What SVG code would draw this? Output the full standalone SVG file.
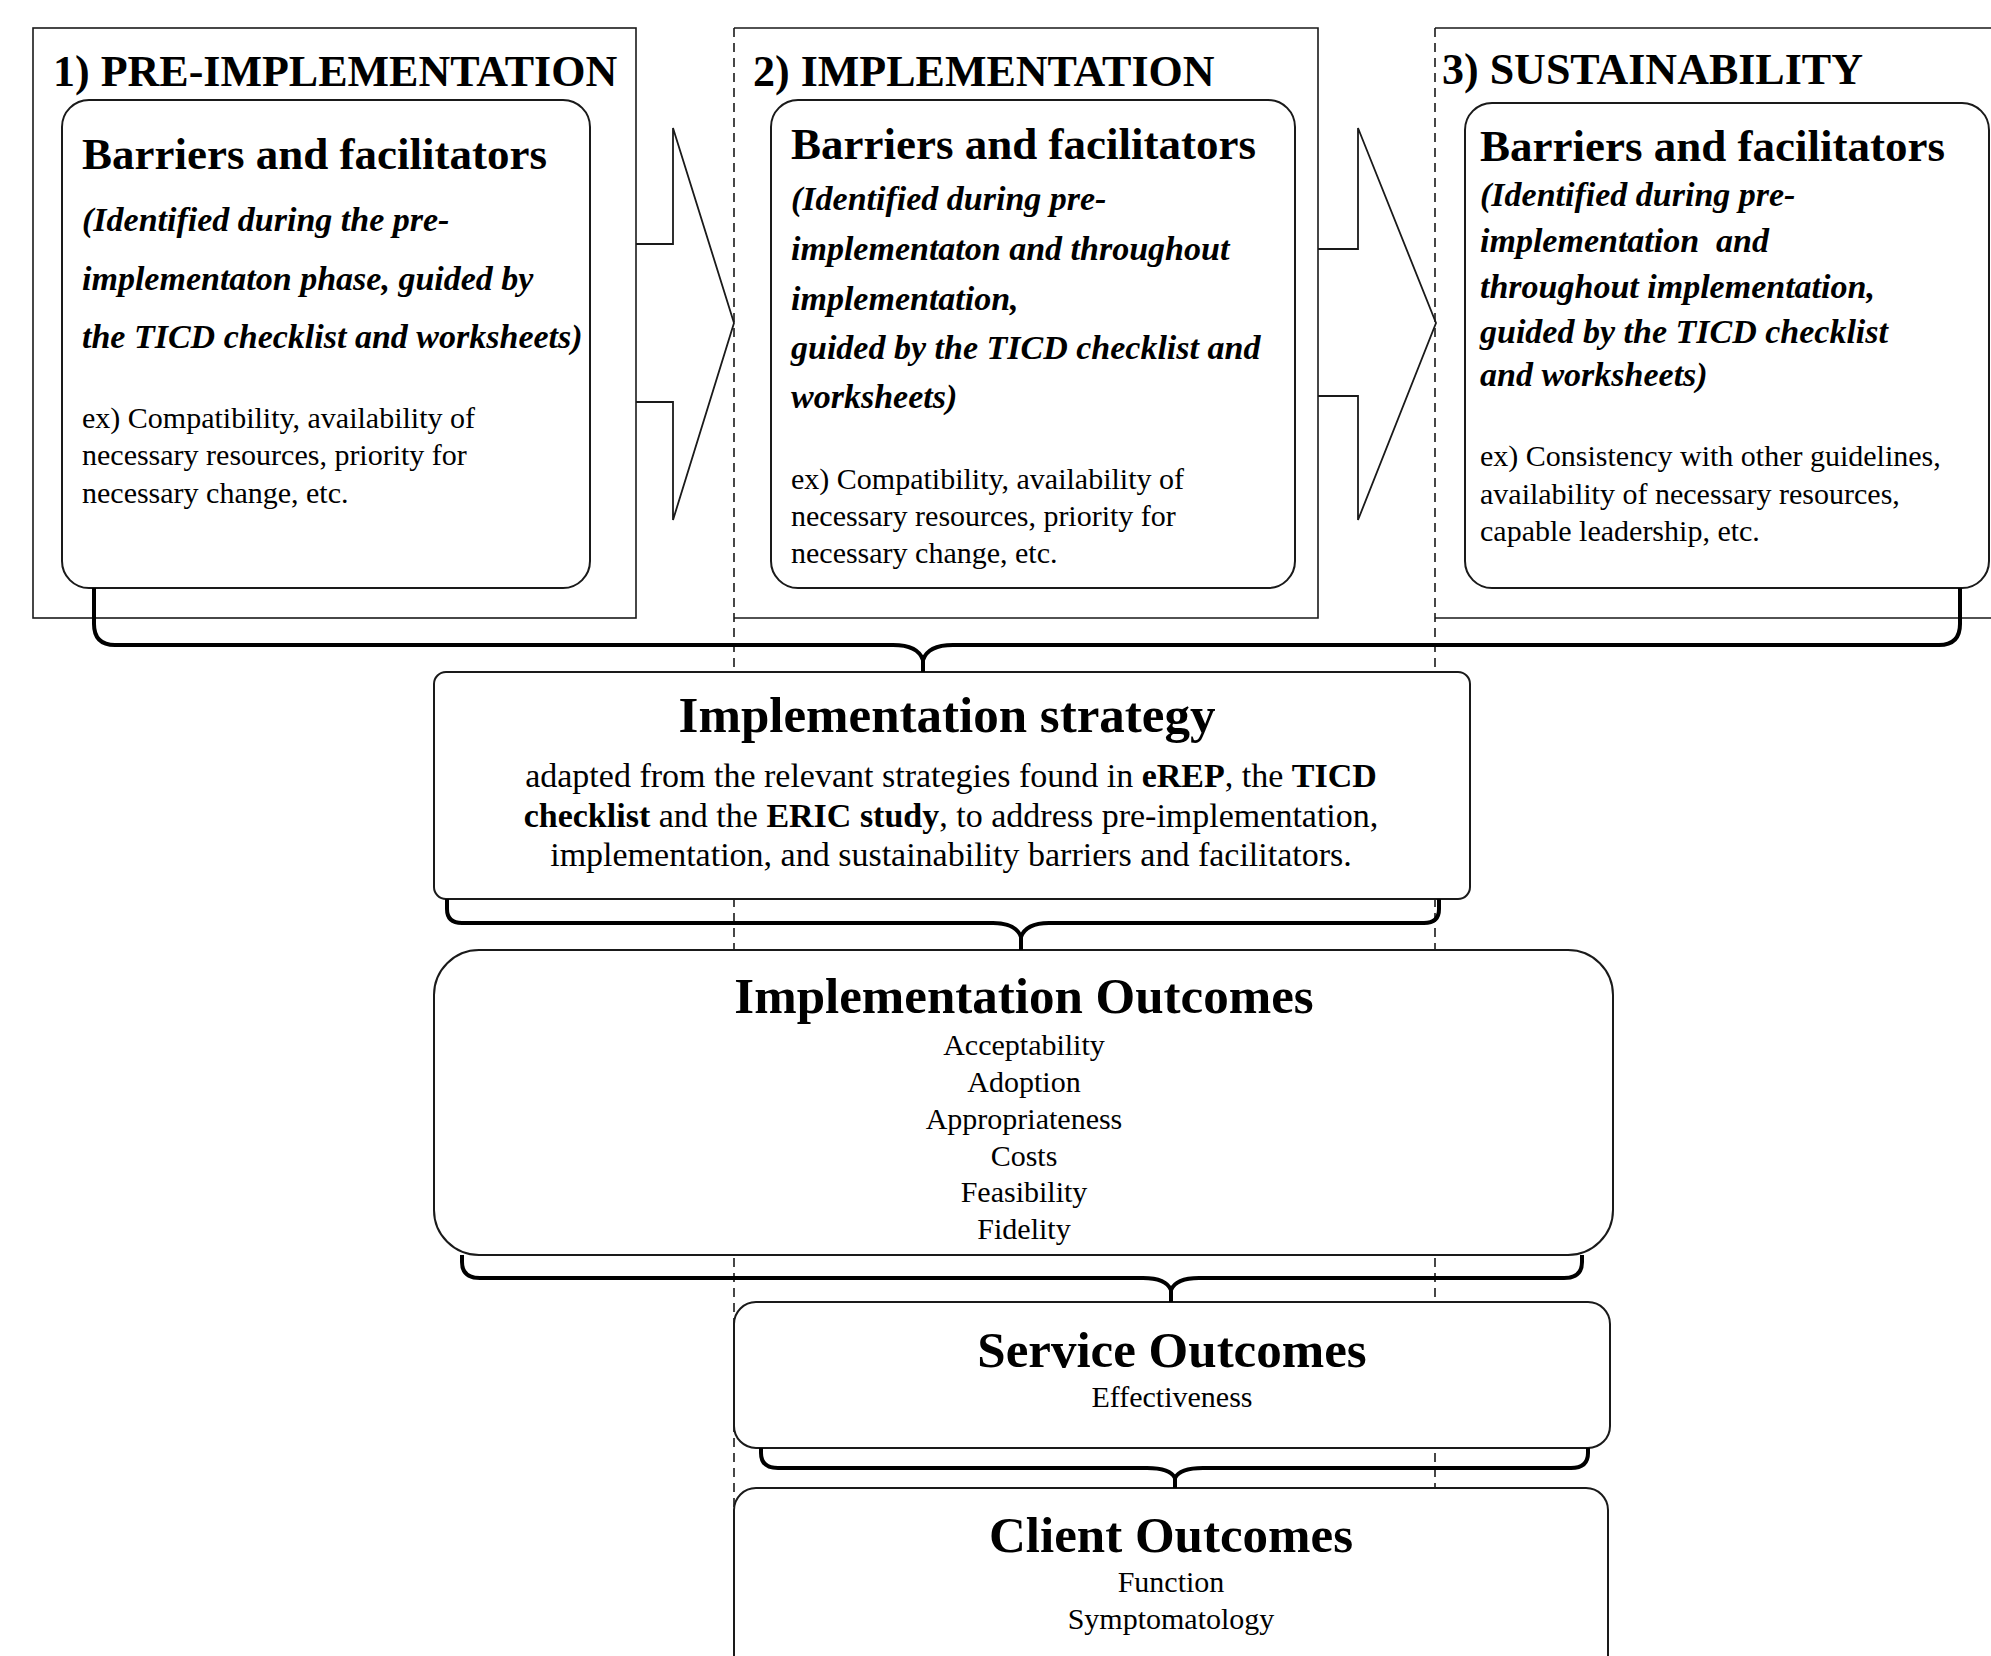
<svg xmlns="http://www.w3.org/2000/svg" width="1991" height="1656" viewBox="0 0 1991 1656">
<style>
text{font-family:"Liberation Serif","Times New Roman",serif;fill:#000}
.outer{fill:#fff;stroke:#1a1a1a;stroke-width:1.6}
.edge{fill:none;stroke:#1a1a1a;stroke-width:1.6}
.card{fill:#fff;stroke:#1a1a1a;stroke-width:2}
.arrow{fill:none;stroke:#1a1a1a;stroke-width:1.8;stroke-linejoin:miter}
.dash{stroke:#1a1a1a;stroke-width:1.6;stroke-dasharray:9 6;fill:none}
.brace{fill:none;stroke:#000;stroke-width:4;stroke-linecap:butt;stroke-linejoin:round}
.phase{font-weight:bold;font-size:44px}
.bf{font-weight:bold;font-size:45px}
.it{font-weight:bold;font-style:italic;font-size:34px}
.ex{font-size:30px}
.title{font-weight:bold;font-size:51px;text-anchor:middle}
.body{font-size:34px;text-anchor:middle}
.item{font-size:30px;text-anchor:middle}
</style>
<rect width="1991" height="1656" fill="#fff"/>

<g id="phase-boxes">
  <rect class="outer" x="33" y="28" width="603" height="590"/>
  <rect x="734" y="28" width="584" height="590" fill="#fff"/>
  <path class="edge" d="M734,28 H1318 V618 H734"/>
  <rect x="1435" y="28" width="570" height="590" fill="#fff"/>
  <path class="edge" d="M1435,28 H1995 M1995,618 H1435"/>
</g>

<g id="dashed-lines">
  <line class="dash" x1="734" y1="28" x2="734" y2="1656"/>
  <line class="dash" x1="1435" y1="28" x2="1435" y2="1488"/>
</g>

<g id="connectors">
  <path class="arrow" d="M636,244 H673 V128 L734,323 L673,520 V402 H636"/>
  <path class="arrow" d="M1318,249 H1358 V128 L1436,323 L1358,520 V396 H1318"/>
</g>

<g id="phase1">
  <text class="phase" x="53" y="86">1) PRE-IMPLEMENTATION</text>
  <rect class="card" x="62" y="100" width="528" height="488" rx="27" ry="27"/>
  <text class="bf" x="82" y="169">Barriers and facilitators</text>
  <text class="it" x="82" y="231">(Identified during the pre-</text>
  <text class="it" x="82" y="290">implementaton phase, guided by</text>
  <text class="it" x="82" y="348">the TICD checklist and worksheets)</text>
  <text class="ex" x="82" y="428">ex) Compatibility, availability of</text>
  <text class="ex" x="82" y="465">necessary resources, priority for</text>
  <text class="ex" x="82" y="503">necessary change, etc.</text>
</g>

<g id="phase2">
  <text class="phase" x="753" y="86">2) IMPLEMENTATION</text>
  <rect class="card" x="771" y="100" width="524" height="488" rx="27" ry="27"/>
  <text class="bf" x="791" y="159">Barriers and facilitators</text>
  <text class="it" x="791" y="210">(Identified during pre-</text>
  <text class="it" x="791" y="260">implementaton and throughout</text>
  <text class="it" x="791" y="310">implementation,</text>
  <text class="it" x="791" y="359">guided by the TICD checklist and</text>
  <text class="it" x="791" y="408">worksheets)</text>
  <text class="ex" x="791" y="489">ex) Compatibility, availability of</text>
  <text class="ex" x="791" y="526">necessary resources, priority for</text>
  <text class="ex" x="791" y="563">necessary change, etc.</text>
</g>

<g id="phase3">
  <text class="phase" x="1442" y="84">3) SUSTAINABILITY</text>
  <rect class="card" x="1465" y="103" width="524" height="485" rx="27" ry="27"/>
  <text class="bf" x="1480" y="161">Barriers and facilitators</text>
  <text class="it" x="1480" y="206">(Identified during pre-</text>
  <text class="it" x="1480" y="252" xml:space="preserve">implementation  and</text>
  <text class="it" x="1480" y="298">throughout implementation,</text>
  <text class="it" x="1480" y="343">guided by the TICD checklist</text>
  <text class="it" x="1480" y="386">and worksheets)</text>
  <text class="ex" x="1480" y="466">ex) Consistency with other guidelines,</text>
  <text class="ex" x="1480" y="504">availability of necessary resources,</text>
  <text class="ex" x="1480" y="541">capable leadership, etc.</text>
</g>

<g id="strategy">
  <rect class="card" x="434" y="672" width="1036" height="227" rx="12" ry="12"/>
  <text class="title" x="947" y="732">Implementation strategy</text>
  <text class="body" x="951" y="787">adapted from the relevant strategies found in <tspan font-weight="bold">eREP</tspan>, the <tspan font-weight="bold">TICD</tspan></text>
  <text class="body" x="951" y="827"><tspan font-weight="bold">checklist</tspan> and the <tspan font-weight="bold">ERIC study</tspan>, to address pre-implementation,</text>
  <text class="body" x="951" y="866">implementation, and sustainability barriers and facilitators.</text>
</g>

<g id="impl-outcomes">
  <rect class="card" x="434" y="950" width="1179" height="305" rx="45" ry="45"/>
  <text class="title" x="1024" y="1013">Implementation Outcomes</text>
  <text class="item" x="1024" y="1055">Acceptability</text>
  <text class="item" x="1024" y="1092">Adoption</text>
  <text class="item" x="1024" y="1129">Appropriateness</text>
  <text class="item" x="1024" y="1166">Costs</text>
  <text class="item" x="1024" y="1202">Feasibility</text>
  <text class="item" x="1024" y="1239">Fidelity</text>
</g>

<g id="service-outcomes">
  <rect class="card" x="734" y="1302" width="876" height="146" rx="22" ry="22"/>
  <text class="title" x="1172" y="1367">Service Outcomes</text>
  <text class="item" x="1172" y="1407">Effectiveness</text>
</g>

<g id="client-outcomes">
  <rect class="card" x="734" y="1488" width="874" height="200" rx="22" ry="22"/>
  <text class="title" x="1171" y="1552">Client Outcomes</text>
  <text class="item" x="1171" y="1592">Function</text>
  <text class="item" x="1171" y="1629">Symptomatology</text>
</g>

<g id="braces">
  <path class="brace" d="M94,588 V624 Q94,645 115,645 H893 Q918,645 923,660 V672 M1960,588 V624 Q1960,645 1939,645 H953 Q928,645 923,660"/>
  <path class="brace" d="M447,899 V909 Q447,923 462,923 H993 Q1016,923 1021,937 V950 M1439,899 V909 Q1439,923 1424,923 H1049 Q1026,923 1021,937"/>
  <path class="brace" d="M462,1255 V1262 Q462,1278 480,1278 H1143 Q1166,1278 1171,1290 V1302 M1582,1255 V1262 Q1582,1278 1564,1278 H1199 Q1176,1278 1171,1290"/>
  <path class="brace" d="M761,1448 V1453 Q761,1468 778,1468 H1147 Q1170,1468 1175,1478 V1488 M1588,1448 V1453 Q1588,1468 1571,1468 H1203 Q1180,1468 1175,1478"/>
</g>
</svg>
